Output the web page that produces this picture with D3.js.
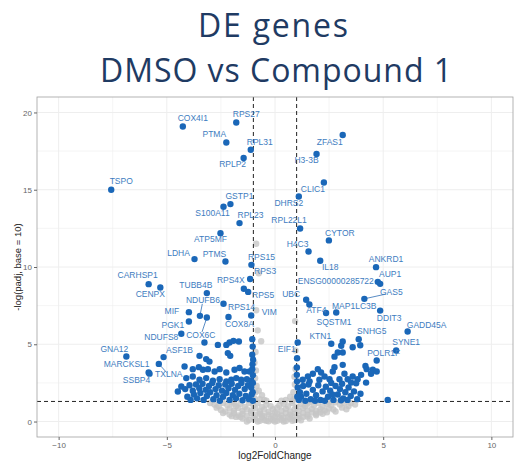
<!DOCTYPE html>
<html>
<head>
<meta charset="utf-8">
<script src="https://cdn.jsdelivr.net/npm/d3@7"></script>
<style>
  body { margin: 0; background: #fff; }
  text { font-family: "Liberation Sans", Arial, sans-serif; }
</style>
</head>
<body>
<div id="main"></div>
<script>
// labelled genes
const labelGenes = ["COX4I1","RPS27","PTMA","RPL31","RPLP2","TSPO","GSTP1","S100A11","RPL23",
  "ZFAS1","H3-3B","CLIC1","DHRS2","RPL22L1","ATP5MF","LDHA","PTMS","RPS15","RPS3","CARHSP1",
  "CENPX","RPS4X","RPS5","TUBB4B","NDUFB6","RPS14","VIM","COX8A","MIF","COX6C","PGK1","NDUFS8",
  "GNA12","MARCKSL1","SSBP4","ASF1B","TXLNA","EIF1","KTN1","SNHG5","SYNE1","POLR1F","GADD45A",
  "CYTOR","H4C3","IL18","ANKRD1","AUP1","ENSG00000285722","GAS5","UBC","ATF4","MAP1LC3B","SQSTM1","DDIT3"];
const labelLfc = [-4.26,-1.79,-2.25,-1.12,-1.45,-7.57,-2.06,-2.38,-1.64,
  3.13,1.92,2.26,1.10,1.16,-2.52,-3.72,-2.29,-1.09,-1.15,-5.84,
  -5.30,-1.44,-1.24,-3.15,-3.47,-2.38,-1.10,-2.15,-3.98,-3.15,-3.98,-4.33,
  -6.87,-5.84,-5.80,-5.15,-5.37,1.05,2.60,3.87,5.60,4.70,6.13,
  2.49,1.55,2.09,4.67,4.86,4.75,4.13,1.44,1.59,2.83,2.36,4.86];
const labelNegLogP = [19.09,19.35,18.06,17.59,17.05,15.00,14.07,13.90,12.84,
  18.54,17.31,15.47,14.56,12.49,12.19,10.51,10.36,10.14,9.22,8.89,
  8.67,8.59,8.39,8.31,6.84,7.62,6.86,6.76,7.08,6.73,6.47,5.68,
  4.21,3.17,3.10,4.17,3.73,5.11,5.03,5.33,4.60,3.95,5.83,
  11.72,11.00,10.40,9.99,8.91,9.04,7.94,7.88,7.57,7.06,7.02,7.18];

// other significant genes [log2FC, -log10 padj]
const sigPoints = [
  [-3.26,5.11],[-2.64,4.96],[-2.25,4.96],[-2.10,5.11],[-1.92,5.22],[-1.67,5.18],[-1.05,5.33],[-1.03,4.85],
  [-2.18,4.43],[-2.07,4.25],[-3.49,4.25],[-1.05,4.32],[-3.18,4.04],[-3.03,3.88],[-4.18,3.56],[-1.01,4.00],
  [-3.80,3.39],[-3.52,3.52],[-3.33,3.35],[-3.10,3.39],[-2.79,3.24],[-2.56,3.39],[-2.25,3.17],[-1.87,3.35],
  [-1.64,3.46],[-1.41,3.24],[-1.18,3.24],[-1.05,3.39],[-1.04,3.70],
  [-4.10,2.81],[-3.80,2.91],[-3.49,2.70],[-3.18,2.81],[-2.87,2.65],[-2.56,2.74],[-2.25,2.59],[-2.02,2.70],
  [-1.79,2.81],[-1.56,2.70],[-1.30,2.74],[-1.10,2.65],[-1.02,3.00],
  [-4.49,1.94],[-4.33,2.27],[-4.15,2.10],[-3.95,2.35],[-3.80,2.00],[-3.65,2.40],[-3.50,2.15],[-3.35,2.45],
  [-3.20,2.05],[-3.05,2.30],[-2.90,2.50],[-2.75,2.10],[-2.60,2.35],[-2.45,2.00],[-2.30,2.40],[-2.15,2.15],
  [-2.00,2.45],[-1.85,2.05],[-1.70,2.30],[-1.55,2.50],[-1.40,2.10],[-1.25,2.35],[-1.10,2.20],[-1.02,2.50],
  [-3.75,1.75],[-3.60,1.50],[-3.45,1.85],[-3.30,1.40],[-3.15,1.65],[-3.00,1.90],[-2.85,1.45],[-2.70,1.70],
  [-2.55,1.35],[-2.40,1.60],[-2.25,1.85],[-2.10,1.40],[-1.95,1.70],[-1.80,1.50],[-1.65,1.80],[-1.50,1.38],
  [-1.35,1.65],[-1.20,1.45],[-1.08,1.75],[-1.02,1.35],[-1.03,1.90],[-3.90,1.40],[-4.05,1.60],
  [2.90,4.47],[3.13,4.47],[3.06,4.90],[3.13,5.18],[3.59,4.81],[3.94,4.94],[2.75,4.20],
  [3.13,3.67],[4.18,3.60],[4.24,3.39],[4.52,3.35],[4.70,3.24],[4.44,3.09],[1.01,3.02],[1.02,4.10],[1.01,3.50],
  [1.28,2.70],[1.52,2.91],[1.75,3.09],[1.98,3.39],[2.13,3.17],[2.29,2.91],[2.52,2.74],[2.67,3.24],[2.75,3.52],
  [2.98,2.74],[3.21,3.09],[3.36,2.74],[3.59,2.91],[3.82,2.74],[3.98,3.02],[3.52,2.52],[3.75,2.48],[4.21,2.52],
  [1.05,2.20],[1.20,1.60],[1.30,2.30],[1.45,1.80],[1.55,2.40],[1.65,1.45],[1.75,2.05],[1.90,1.70],[2.00,2.35],
  [2.10,1.40],[2.20,1.95],[2.35,2.25],[2.45,1.60],[2.55,2.00],[2.70,1.40],[2.80,2.30],[2.90,1.75],[3.00,2.10],
  [3.15,1.50],[3.25,1.90],[3.40,2.20],[3.50,1.65],[3.65,1.95],[3.80,1.45],[3.95,1.80],[1.10,1.40],[1.15,1.90],
  [1.40,1.35],[1.85,1.35],[2.30,1.35],[2.65,1.75],[3.05,1.38],[3.35,1.40],[1.02,2.60],[1.60,2.60],[2.05,2.70],
  [2.60,2.50],[3.10,2.45],[1.03,1.60],[5.21,1.40]
];

// not significant
const nsPoints = [
  [-1.5,0.2],[-1.2,0.1],[-0.9,0.15],[-0.7,0.05],[-0.5,0.1],[-0.3,0.02],[-0.1,0.08],[0.1,0.05],[0.3,0.12],
  [0.5,0.04],[0.7,0.18],[0.9,0.1],[1.1,0.22],[-1.0,0.28],[-0.6,0.25],[-0.2,0.2],[0.2,0.28],[0.6,0.3],[1.3,0.3],[-1.8,0.3],
  [-0.8,0.0],[-0.4,0.05],[0.0,0.0],[0.4,0.0],[0.8,0.05],[-1.3,0.0],[1.2,0.08],[1.6,0.2],[-2.0,0.35],
  [-2.1,0.45],[-1.9,0.55],[-1.7,0.4],[-1.5,0.5],[-1.3,0.38],[-1.1,0.55],[-0.9,0.42],[-0.7,0.5],[-0.5,0.35],
  [-0.3,0.45],[-0.1,0.38],[0.1,0.5],[0.3,0.4],[0.5,0.55],[0.7,0.45],[0.9,0.52],[1.1,0.4],[1.3,0.55],[1.5,0.45],
  [1.7,0.58],[1.9,0.5],[2.1,0.6],[-1.6,0.3],[-0.6,0.4],[0.0,0.3],[0.4,0.25],[0.8,0.35],[1.5,0.32],[1.9,0.4],
  [-2.5,0.75],[-2.3,0.65],[-2.1,0.85],[-1.9,0.7],[-1.7,0.88],[-1.5,0.68],[-1.3,0.8],[-1.1,0.7],[-0.9,0.85],
  [-0.7,0.65],[-0.5,0.78],[-0.3,0.62],[0.3,0.7],[0.5,0.82],[0.7,0.66],[0.9,0.8],[1.1,0.7],[1.3,0.88],[1.5,0.72],
  [1.7,0.82],[1.9,0.68],[2.1,0.8],[2.3,0.72],[2.5,0.85],[2.7,0.78],[0.0,0.6],[-0.1,0.8],[0.1,0.9],
  [2.4,0.6],[2.8,0.65],[3.1,0.9],[3.4,1.0],[2.2,0.5],[-2.4,0.55],[-2.7,0.9],
  [-2.8,1.1],[-2.6,1.0],[-2.4,1.2],[-2.2,1.05],[-2.0,1.25],[-1.8,1.0],[-1.6,1.15],[-1.4,0.95],[-1.2,1.2],
  [-1.0,1.05],[-0.8,1.2],[-0.6,0.95],[0.6,1.0],[0.8,1.2],[1.0,0.95],[1.2,1.15],[1.4,1.0],[1.6,1.25],[1.8,1.05],
  [2.0,1.2],[2.2,0.98],[2.4,1.15],[2.6,1.05],[2.8,1.25],[3.0,1.1],[3.2,1.2],[3.5,1.2],[3.7,1.1],[3.3,0.8],
  [-0.4,1.1],[0.4,1.15],[-0.2,1.0],[0.2,1.05],[-3.0,1.2],[-1.9,1.15],[1.5,1.15],[2.5,1.25],
  [-0.95,1.5],[-0.9,1.9],[-0.85,2.3],[-0.92,2.8],[-0.88,3.3],[-0.95,3.8],[-0.9,4.5],[-0.64,5.2],[-0.8,5.9],
  [-0.87,7.2],[-0.75,9.6],[-0.87,11.5],[-0.7,1.45],[-0.6,1.7],[-0.75,2.0],[-0.5,1.4],[0.5,1.4],[0.7,1.6],
  [0.85,1.9],[0.92,2.4],[0.9,2.9],[0.95,3.4],[0.9,1.5],[0.8,1.35],[0.95,4.6],[0.93,6.5],[-0.4,1.35],[0.3,1.35]
];

const xTicks = [-10, -5, 0, 5, 10];
const yTicks = [0, 5, 10, 15, 20];

// label placement (pixel offsets from the point), segment flag
const nudge = {
  "COX4I1":[10,-8],"RPS27":[10,-8],"PTMA":[-12,-8],"RPL31":[9,-7],"RPLP2":[-11,7],"TSPO":[10,-8],
  "GSTP1":[9,-7],"S100A11":[-11,7],"RPL23":[11,-7],"ZFAS1":[-13,8],"H3-3B":[-10,7],"CLIC1":[-11,7],
  "DHRS2":[-10,7],"RPL22L1":[-11,-8],"ATP5MF":[-10,7],"LDHA":[-16,-5],"PTMS":[-11,-7],"RPS15":[10,-7],
  "RPS3":[15,-7],"CARHSP1":[-11,-8],"CENPX":[-10,7],"RPS4X":[-13,-8],"RPS5":[15,4],"TUBB4B":[-11,-7],
  "NDUFB6":[3,-15,1],"RPS14":[18,4],"VIM":[18,-3],"COX8A":[11,8],"MIF":[-17,0],"COX6C":[-6,18,1],
  "PGK1":[-16,4],"NDUFS8":[-20,4],"GNA12":[-12,-7],"MARCKSL1":[-22,-8],"SSBP4":[-13,7],"ASF1B":[16,-6],
  "TXLNA":[10,11,1],"EIF1":[-11,7],"KTN1":[-11,-7],"SNHG5":[13,-7],"SYNE1":[10,-8],"POLR1F":[7,-7],
  "GADD45A":[19,-6],"CYTOR":[11,-7],"H4C3":[-11,-7],"IL18":[10,7],"ANKRD1":[10,-7],"AUP1":[10,-9],
  "ENSG00000285722":[-42,0],"GAS5":[27,-6,1],"UBC":[-15,-5],"ATF4":[7,6],"MAP1LC3B":[18,-6],
  "SQSTM1":[8,10],"DDIT3":[9,8]
};

const W = 517, H = 465;
const margin = {top: 97, right: 4, bottom: 28, left: 37};
const width = W - margin.left - margin.right;
const height = H - margin.top - margin.bottom;

const svg = d3.select("#main").append("svg")
  .attr("width", W).attr("height", H);

// title
const titleColor = "#1f3b63";
svg.append("text").attr("x", 273).attr("y", 37).attr("text-anchor", "middle")
  .style("font-family", "'Open Sans', sans-serif").style("font-size", "32px")
  .attr("fill", titleColor).attr("textLength", 150).attr("lengthAdjust", "spacing")
  .text("DE genes");
svg.append("text").attr("x", 276).attr("y", 82).attr("text-anchor", "middle")
  .style("font-family", "'Open Sans', sans-serif").style("font-size", "32px")
  .attr("fill", titleColor).attr("textLength", 352).attr("lengthAdjust", "spacing")
  .text("DMSO vs Compound 1");

const x = d3.scaleLinear().domain([-11, 11]).range([0, width]);
const y = d3.scaleLinear().domain([-1, 21]).range([height, 0]);

const g = svg.append("g").attr("transform", `translate(${margin.left},${margin.top})`);

// grid
const minorX = d3.range(-10, 10.1, 2.5), minorY = d3.range(0, 20.1, 2.5);
g.append("g").selectAll("line").data(minorX).join("line")
  .attr("x1", d => x(d)).attr("x2", d => x(d)).attr("y1", 0).attr("y2", height)
  .attr("stroke", "#eeeeee").attr("stroke-width", d => d % 5 === 0 ? 1 : 0.6);
g.append("g").selectAll("line").data(minorY).join("line")
  .attr("y1", d => y(d)).attr("y2", d => y(d)).attr("x1", 0).attr("x2", width)
  .attr("stroke", "#eeeeee").attr("stroke-width", d => d % 5 === 0 ? 1 : 0.6);

// points
g.append("g").selectAll("circle").data(nsPoints).join("circle")
  .attr("cx", d => x(d[0])).attr("cy", d => y(d[1])).attr("r", 3.2)
  .attr("fill", "#c6c6c6").attr("fill-opacity", 0.8);

// threshold lines
const dash = "4,3";
[-1, 1].forEach(v => {
  g.append("line").attr("x1", x(v)).attr("x2", x(v)).attr("y1", 0).attr("y2", height)
    .attr("stroke", "#222").attr("stroke-width", 1).attr("stroke-dasharray", dash);
});
g.append("line").attr("x1", 0).attr("x2", width).attr("y1", y(-Math.log10(0.05))).attr("y2", y(-Math.log10(0.05)))
  .attr("stroke", "#222").attr("stroke-width", 1).attr("stroke-dasharray", dash);

const blue = "#1a67b8";
g.append("g").selectAll("circle").data(sigPoints).join("circle")
  .attr("cx", d => x(d[0])).attr("cy", d => y(d[1])).attr("r", 3.2)
  .attr("fill", blue);

const labelled = labelGenes.map((n, i) => ({name: n, lfc: labelLfc[i], p: labelNegLogP[i]}));

// segments
g.append("g").selectAll("line").data(labelled.filter(d => nudge[d.name][2])).join("line")
  .attr("x1", d => x(d.lfc)).attr("y1", d => y(d.p))
  .attr("x2", d => x(d.lfc) + nudge[d.name][0] * 0.8).attr("y2", d => y(d.p) + nudge[d.name][1] * 0.8)
  .attr("stroke", "#2f6fb5").attr("stroke-width", 0.8);

g.append("g").selectAll("circle").data(labelled).join("circle")
  .attr("cx", d => x(d.lfc)).attr("cy", d => y(d.p)).attr("r", 3.2)
  .attr("fill", blue);

g.append("g").selectAll("text").data(labelled).join("text")
  .attr("x", d => x(d.lfc) + nudge[d.name][0]).attr("y", d => y(d.p) + nudge[d.name][1])
  .attr("text-anchor", "middle").attr("dominant-baseline", "middle")
  .style("font-size", "8.5px").attr("fill", "#3d7cc0")
  .text(d => d.name);

// panel border
g.append("rect").attr("width", width).attr("height", height)
  .attr("fill", "none").attr("stroke", "#a0a0a0").attr("stroke-width", 0.8);

// axes
const xAxis = g.append("g").attr("transform", `translate(0,${height})`)
  .call(d3.axisBottom(x).tickValues(xTicks).tickSize(3).tickPadding(2));
const yAxis = g.append("g")
  .call(d3.axisLeft(y).tickValues(yTicks).tickSize(3).tickPadding(2));
[xAxis, yAxis].forEach(a => {
  a.select(".domain").remove();
  a.selectAll("line").attr("stroke", "#666");
  a.selectAll("text").attr("fill", "#666").style("font-size", "8px");
});

svg.append("text").attr("x", margin.left + width / 2).attr("y", 459).attr("text-anchor", "middle")
  .style("font-size", "10px").attr("fill", "#222").text("log2FoldChange");
svg.append("text").attr("transform", `translate(21,${margin.top + y(10)}) rotate(-90)`)
  .attr("text-anchor", "middle").style("font-size", "9.5px").attr("fill", "#222")
  .text("-log(padj, base = 10)");
</script>
</body>
</html>
